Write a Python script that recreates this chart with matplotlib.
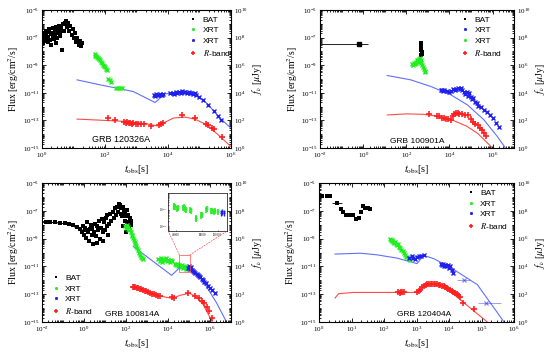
"""Four-panel GRB multi-band light curves (BAT / XRT / R-band)."""

import matplotlib.pyplot as plt
import numpy as np
from matplotlib.patches import Rectangle, ConnectionPatch
from matplotlib.ticker import FixedLocator, LogLocator, NullFormatter

plt.rcParams['font.family'] = ['Liberation Serif', 'DejaVu Serif']
plt.rcParams['mathtext.fontset'] = 'stix'

# ---------------- GRB 120326A ----------------
bat_a = np.array([
    (1.0, 1.2e-7), (1.05, 4e-8), (1.1, 8e-8), (1.15, 2e-7), (1.2, 6e-8), (1.3, 1.5e-7),
    (1.35, 3e-7), (1.4, 9e-8), (1.5, 5e-8), (1.55, 2.5e-7), (1.6, 1.1e-7), (1.7, 4e-7),
    (1.8, 7e-8), (1.9, 1.8e-7), (2.0, 3e-8), (2.1, 2.2e-7), (2.2, 1.3e-7), (2.3, 5e-7),
    (2.4, 8e-8), (2.5, 3e-7), (2.6, 1.6e-7), (2.7, 4e-8), (2.8, 6e-7), (2.9, 2e-7),
    (3.0, 1e-7), (3.2, 3.5e-7), (3.4, 7e-7), (3.6, 1.4e-7), (3.8, 2.5e-7), (4.0, 5e-7),
    (4.3, 1.3e-8), (4.6, 9e-7), (5.0, 3e-7), (5.4, 1.1e-6), (5.8, 1.5e-6), (6.3, 6e-7),
    (6.8, 1.2e-6), (7.4, 3e-7), (8.0, 7e-7), (8.7, 1.5e-7), (9.5, 4e-7), (10.3, 9e-8),
    (11.2, 2e-7), (12.2, 5e-8), (13.3, 1e-7), (14.5, 3e-8), (16, 6e-8), (17.5, 2.5e-8),
    (19, 4e-8)])
xrt_green_a = np.array([
    (48, 6e-9), (50, 5e-9), (53, 4.5e-9), (56, 4e-9), (60, 3.2e-9), (64, 2.6e-9),
    (68, 2.2e-9), (73, 1.8e-9), (78, 1.4e-9), (84, 1.1e-9), (90, 9e-10), (97, 7e-10),
    (105, 5.5e-10), (112, 4.3e-10), (126, 1e-10), (140, 8e-11), (160, 6.5e-11),
    (230, 2.2e-11), (260, 2.2e-11), (300, 2.1e-11), (340, 2.2e-11)])
xrt_blue_a = np.array([
    (3500, 7e-12), (3800, 6e-12), (4200, 8e-12), (4600, 7.5e-12), (5000, 6.5e-12),
    (5500, 8e-12), (6000, 7e-12), (6600, 7.5e-12), (7200, 8e-12), (12000, 9e-12),
    (14000, 1e-11), (16000, 8.5e-12), (18000, 1.1e-11), (20000, 9.5e-12), (23000, 1.2e-11),
    (26000, 1e-11), (29000, 1.3e-11), (32000, 1.1e-11), (36000, 1.25e-11), (40000, 1e-11),
    (45000, 1.15e-11), (50000, 9e-12), (56000, 1e-11), (63000, 8e-12), (70000, 9e-12),
    (80000, 7e-12), (100000, 5e-12), (130000, 3e-12), (190000, 1.4e-12), (280000, 4.5e-13),
    (400000, 2e-13), (500000, 1.1e-13)])
rband_a = np.array([
    (126, 1.5e-13), (210, 1.0e-13), (400, 8e-14), (450, 7e-14), (500, 7.5e-14),
    (560, 6.5e-14), (620, 7e-14), (700, 6e-14), (800, 6.5e-14), (950, 5.5e-14),
    (1100, 6e-14), (1400, 5.5e-14), (1700, 6e-14), (3000, 4e-14), (5200, 5e-14),
    (6000, 6e-14), (7000, 6.5e-14), (27000, 2.3e-13), (72000, 1.5e-13), (160000, 5.5e-14),
    (190000, 4.5e-14), (250000, 3e-14), (300000, 2.5e-14), (530000, 6.5e-15)])
model_x_a = np.array([
    (13, 8.7e-11), (69, 3.8e-11), (235, 2.2e-11), (790, 1.25e-11), (3900, 2e-12),
    (5600, 4.1e-12), (8000, 8.5e-12), (24000, 1.05e-11), (63000, 1.05e-11),
    (170000, 1.8e-12), (450000, 1.5e-13), (1e6, 2.8e-14)])
model_r_a = np.array([
    (13, 1.26e-13), (490, 8.5e-14), (2100, 5.8e-14), (4400, 4e-14), (7100, 6.5e-14),
    (15000, 1.5e-13), (35000, 1.75e-13), (72000, 1.25e-13), (170000, 4.9e-14),
    (450000, 7e-15), (1e6, 1.3e-15)])

# ---------------- GRB 100901A ----------------
bat_b_single = np.array([(0.65, 3.3e-8)])
bat_b_single_xerr = [[0.64], [0.95]]
bat_b = np.array([
    (480, 4e-8), (485, 3e-8), (490, 2.2e-8), (495, 1.6e-8), (500, 1.2e-8),
    (505, 9e-9), (510, 7e-9), (500, 5.6e-9)])
xrt_green_b = np.array([
    (190, 1.3e-9), (210, 1.1e-9), (230, 1.5e-9), (250, 1.2e-9), (270, 1.8e-9),
    (290, 1.4e-9), (310, 2.2e-9), (330, 1.7e-9), (350, 2.5e-9), (380, 3e-9), (400, 2e-9),
    (430, 3.5e-9), (460, 2.5e-9), (500, 1.5e-9), (550, 1e-9), (600, 7e-10), (650, 5e-10),
    (700, 4e-10), (760, 3.5e-10)])
xrt_blue_b = np.array([
    (4000, 1.5e-11), (4500, 1.7e-11), (5000, 1.4e-11), (5500, 1.6e-11), (8000, 1.3e-11),
    (10000, 1.1e-11), (12000, 1.4e-11), (15000, 1.8e-11), (18000, 1.6e-11), (21000, 2.0e-11),
    (25000, 2.2e-11), (30000, 1.9e-11), (35000, 2.1e-11), (40000, 1.6e-11), (48000, 1.1e-11),
    (55000, 8e-12), (62000, 1.2e-11), (70000, 6e-12), (80000, 9e-12), (95000, 5e-12),
    (110000, 3.5e-12), (130000, 4e-12), (150000, 2.2e-12), (180000, 1.8e-12),
    (220000, 1.2e-12), (300000, 9e-13), (400000, 6e-13), (550000, 4e-13), (750000, 2.5e-13),
    (1e6, 1.5e-13), (1.4e6, 7e-14), (1.9e6, 3.5e-14)])
rband_b = np.array([
    (1100, 2.9e-13), (2500, 2.2e-13), (3300, 2e-13), (4500, 1.6e-13), (5600, 1.5e-13),
    (7000, 1.2e-13), (9000, 1.3e-13), (11500, 1.1e-13), (14000, 2e-13), (17000, 3e-13),
    (20000, 3.5e-13), (24000, 3.2e-13), (28000, 3e-13), (40000, 2.8e-13), (55000, 2.5e-13),
    (75000, 2.7e-13), (100000, 1.2e-13), (130000, 8e-14), (160000, 6e-14), (200000, 4.5e-14),
    (250000, 3e-14), (320000, 2e-14), (400000, 1.2e-14), (500000, 8e-15)])
model_x_b = np.array([
    (13, 1.8e-10), (160, 8.7e-11), (1350, 2.9e-11), (11500, 7.2e-12), (68000, 1.35e-12),
    (400000, 1.1e-13), (1.65e6, 7e-15), (4e6, 1e-15)])
model_r_b = np.array([
    (13, 2.5e-13), (100, 3e-13), (600, 2.8e-13), (3000, 2e-13), (15000, 1e-13),
    (60000, 4e-14), (200000, 1.2e-14), (1e6, 1e-15)])

# ---------------- GRB 100814A ----------------
bat_c_early = np.array([
    (0.015, 1.7e-8), (0.025, 1.6e-8), (0.04, 1.5e-8), (0.07, 1.4e-8), (0.12, 1.3e-8),
    (0.2, 1.1e-8), (0.3, 9e-9), (0.45, 7e-9), (0.65, 5e-9)])
bat_c_early_xerr = [[0.005, 0.007, 0.012, 0.02, 0.035, 0.05, 0.07, 0.1, 0.12],
                    [0.008, 0.012, 0.02, 0.035, 0.05, 0.08, 0.1, 0.12, 0.15]]
bat_c = np.array([
    (0.8, 3e-9), (0.9, 8e-9), (1.0, 2e-9), (1.1, 6e-9), (1.2, 1.2e-9), (1.3, 4e-9),
    (1.45, 1.5e-8), (1.6, 3e-9), (1.75, 7e-10), (1.9, 5e-9), (2.1, 1e-8), (2.3, 2e-9),
    (2.5, 6e-9), (2.7, 4e-10), (3.0, 3e-9), (3.3, 1.2e-8), (3.6, 1.5e-9), (4.0, 8e-9),
    (4.4, 5e-10), (4.8, 4e-9), (5.3, 2e-8), (5.8, 1e-9), (6.4, 6e-9), (7.0, 2.5e-8),
    (7.7, 3e-9), (8.5, 7e-10), (9.3, 1.5e-8), (10.2, 4e-9), (11, 3e-8), (12, 8e-9),
    (13, 5e-8), (14.5, 2e-9), (16, 1.2e-8), (18, 6e-8), (20, 2e-8), (23, 8e-8), (26, 3e-8),
    (29, 1.5e-7), (33, 5e-8), (37, 2e-7), (41, 9e-8), (45, 3e-7), (50, 2.5e-7), (55, 6e-8),
    (60, 1.5e-7), (65, 4e-8), (70, 2e-7), (76, 8e-9), (82, 1e-7), (88, 2e-8), (95, 6e-8),
    (100, 3e-9), (105, 4e-8), (110, 1.2e-7), (115, 1.5e-8), (125, 5e-8), (135, 8e-9),
    (150, 3e-8), (165, 1e-8), (180, 2e-8)])
xrt_green_c = np.array([
    (90, 8e-9), (100, 6e-9), (110, 9e-9), (120, 5e-9), (130, 7e-9), (140, 4e-9), (155, 5e-9),
    (170, 3e-9), (185, 2e-9), (200, 1.5e-9), (220, 1.2e-9), (240, 8e-10), (260, 6e-10),
    (280, 4.5e-10), (310, 3e-10), (340, 2.2e-10), (380, 1.5e-10), (420, 1e-10),
    (470, 7e-11), (520, 5e-11), (600, 4e-11), (680, 3.5e-11),
    (3500, 3.5e-11), (4000, 2.5e-11), (4500, 4e-11), (5000, 3e-11), (5500, 2.2e-11),
    (6000, 3.2e-11), (7000, 2.8e-11), (8000, 3.8e-11), (9000, 2.5e-11), (10500, 3e-11),
    (12000, 2.2e-11), (14000, 3e-11), (16000, 2.4e-11), (21000, 1.6e-11), (24000, 1.2e-11),
    (27000, 1.5e-11), (31000, 1e-11), (35000, 1.3e-11), (40000, 9e-12), (45000, 1.2e-11),
    (52000, 8e-12), (60000, 1e-11), (70000, 7e-12), (80000, 9e-12), (95000, 7e-12)])
xrt_blue_c = np.array([
    (90000, 8e-12), (100000, 1e-11), (110000, 7e-12), (125000, 9e-12), (140000, 6e-12),
    (160000, 5e-12), (180000, 4e-12), (200000, 3.5e-12), (230000, 3e-12), (260000, 2.5e-12),
    (300000, 2e-12), (350000, 1.8e-12), (400000, 1.3e-12), (480000, 1e-12), (550000, 8e-13),
    (650000, 6e-13), (800000, 4e-13), (1e6, 3e-13), (1.3e6, 2e-13), (1.7e6, 1.3e-13)])
rband_c = np.array([
    (220, 3.2e-13), (250, 3.4e-13), (280, 3.2e-13), (320, 3e-13), (380, 2.7e-13),
    (450, 2.5e-13), (550, 2.3e-13), (650, 2e-13), (800, 1.8e-13), (950, 1.6e-13),
    (1150, 1.4e-13), (1400, 1.25e-13), (1700, 1.1e-13), (2100, 1e-13), (2600, 9e-14),
    (3200, 8e-14), (4000, 7e-14), (15000, 6e-14), (20000, 5.5e-14), (95000, 1.2e-13),
    (200000, 8e-14), (300000, 5e-14), (400000, 3.5e-14), (500000, 2.5e-14),
    (700000, 1.3e-14), (900000, 6e-15), (1.2e6, 2e-15)])
model_x_c = np.array([
    (220, 2.8e-10), (15000, 2.3e-12), (37000, 8.5e-12), (135000, 5e-12),
    (480000, 8.5e-13), (2.1e6, 2.3e-14), (6.2e6, 1e-15)])
model_r_c = np.array([
    (220, 3e-13), (1000, 1.5e-13), (5000, 7e-14), (16000, 5e-14), (37000, 8.3e-14),
    (110000, 1.2e-13), (250000, 5.4e-14), (480000, 1.8e-14), (1.3e6, 1e-15)])
zoom_box_t = (35000, 112000)
zoom_box_f = (3.7e-12, 6.9e-11)
inset_green = np.array([
    (42000, 1.7e-11), (43000, 1.9e-11), (44000, 1.6e-11), (47000, 1.2e-11), (48000, 1.4e-11),
    (54000, 1.4e-11), (55000, 1.6e-11), (57000, 1.2e-11), (58000, 1.1e-11),
    (64000, 1.1e-11), (65500, 9e-12), (71000, 2.8e-12), (72000, 3.5e-12), (78000, 4.8e-12),
    (79000, 5.5e-12), (85000, 1.1e-11), (86000, 1.2e-11), (91500, 8.7e-12), (92500, 9.5e-12),
    (96000, 8e-12), (97000, 8.5e-12), (100500, 8e-12)])
inset_blue = np.array([(104000, 7e-12), (106000, 7.5e-12), (108500, 7e-12)])
inset_rel_err = 0.4

# ---------------- GRB 120404A ----------------
bat_d = np.array([
    (1.2, 1.1e-6), (1.7, 1.1e-6), (2.2, 1.1e-6), (4.7, 1.4e-7), (5.6, 9e-8), (6.8, 5.2e-8),
    (8.6, 5.2e-8), (11, 4.7e-8), (13.8, 2.7e-8), (16.3, 3.3e-8), (19.3, 9e-8),
    (22.4, 2.1e-7), (26, 1.6e-7), (31, 1.5e-7), (37, 1.4e-7)])
bat_d_single = np.array([(3.5, 3.6e-7)])
bat_d_single_xerr = [[1.0], [1.5]]
xrt_green_d = np.array([
    (150, 9e-10), (160, 8e-10), (170, 7e-10), (180, 8.5e-10), (190, 6e-10), (200, 5e-10),
    (215, 6e-10), (230, 4e-10), (250, 3.5e-10), (270, 4.2e-10), (290, 2.5e-10),
    (310, 2e-10), (340, 1.6e-10), (370, 1.2e-10), (400, 1e-10), (440, 7e-11), (480, 5e-11),
    (530, 4.5e-11), (580, 3.5e-11), (640, 3e-11)])
xrt_blue_d = np.array([
    (600, 4e-11), (700, 6e-11), (800, 4e-11), (900, 3.5e-11), (1000, 4.5e-11),
    (1200, 5.5e-11), (1400, 6e-11), (1700, 7e-11), (5500, 1.6e-11), (6000, 1.2e-11),
    (6500, 1.5e-11), (7000, 1.1e-11), (7500, 1.3e-11), (8000, 1e-11), (9000, 1.2e-11),
    (10000, 8e-12), (11000, 1e-11), (12000, 6e-12), (13000, 3.5e-12)])
xrt_blue_d_late = np.array([(28000, 1.1e-12), (135000, 2.3e-14)])
xrt_blue_d_late_xerr = [[10000, 55000], [17000, 265000]]
rband_d = np.array([
    (270, 1.4e-13), (300, 1.3e-13), (330, 1.4e-13), (360, 1.35e-13), (400, 1.4e-13),
    (1000, 1.4e-13), (1150, 1.6e-13), (1300, 2.1e-13), (1500, 3.2e-13), (1700, 4.2e-13),
    (1900, 4.8e-13), (2100, 5.3e-13), (2400, 5.5e-13), (2700, 5.6e-13), (3000, 5.5e-13),
    (3400, 5.6e-13), (3800, 5.3e-13), (4300, 5.2e-13), (4800, 5e-13), (5400, 4.6e-13),
    (6000, 4.2e-13), (6800, 3.8e-13), (7600, 3.3e-13), (8500, 2.9e-13), (9500, 2.5e-13),
    (10500, 2.1e-13), (12000, 1.8e-13), (13500, 1.5e-13), (15000, 1.2e-13),
    (17000, 1e-13), (19000, 8.5e-14), (22000, 6.5e-14), (27000, 2.2e-14), (60000, 9e-15)])
model_x_d = np.array([
    (3.1, 7.8e-11), (18.5, 9e-11), (60, 6.9e-11), (250, 4e-11), (1030, 1.6e-11),
    (1650, 6.3e-11), (3400, 3.6e-11), (11000, 8.5e-12), (74000, 4.9e-13), (490000, 1e-15)])
model_r_d = np.array([
    (3.1, 5.4e-14), (4, 1.1e-13), (11.5, 1.35e-13), (1030, 1.35e-13), (1650, 3.8e-13),
    (3400, 5.4e-13), (6900, 3.8e-13), (22000, 4e-14), (150000, 1e-15)])

flux_ticks = [1e-15, 1e-13, 1e-11, 1e-9, 1e-7, 1e-5]
fnu_ticks = [1e0, 1e2, 1e4, 1e6, 1e8, 1e10]

C_BAT = 'black'
C_GREEN = '#22ee22'
C_BLUE = '#2020ee'
C_RED = '#ff2020'
C_XLINE = '#6070ff'
C_RLINE = '#ff4a4a'
SANS = 'Liberation Sans'


def setup_axes(ax, xlim, xticks):
    ax.set_xscale('log')
    ax.set_yscale('log')
    ax.set_xlim(xlim)
    ax.set_ylim(1e-15, 1e-5)
    ax.xaxis.set_major_locator(FixedLocator(xticks))
    ax.yaxis.set_major_locator(FixedLocator(flux_ticks))
    for axis in (ax.xaxis, ax.yaxis):
        axis.set_minor_locator(LogLocator(10, subs=np.arange(1, 10), numticks=200))
        axis.set_minor_formatter(NullFormatter())
    ax.tick_params(which='both', direction='in', top=True, labelsize=5, width=0.6)
    ax.tick_params(which='major', length=3, pad=2)
    ax.tick_params(which='minor', length=1.5)
    ax.set_xlabel(r'$t_{\rm obs}$[s]', fontsize=7.5, labelpad=2)
    ax.set_ylabel(r'Flux [erg/cm$^2$/s]', fontsize=7, labelpad=1)
    for sp in ax.spines.values():
        sp.set_linewidth(0.7)

    ax2 = ax.twinx()
    ax2.set_yscale('log')
    ax2.set_ylim(1e0, 1e10)
    ax2.yaxis.set_major_locator(FixedLocator(fnu_ticks))
    ax2.yaxis.set_minor_locator(LogLocator(10, subs=np.arange(1, 10), numticks=200))
    ax2.yaxis.set_minor_formatter(NullFormatter())
    ax2.tick_params(which='both', direction='in', labelsize=5, width=0.6)
    ax2.tick_params(which='major', length=3, pad=2)
    ax2.tick_params(which='minor', length=1.5)
    ax2.set_ylabel(r'$f_\nu$ [$\mu$Jy]', fontsize=7, labelpad=2)
    return ax2


def draw_series(ax, bat, green, blue, red, xline, rline):
    ax.plot(xline[:, 0], xline[:, 1], color=C_XLINE, lw=0.8, zorder=1)
    ax.plot(rline[:, 0], rline[:, 1], color=C_RLINE, lw=0.8, zorder=1)
    h_bat, = ax.plot(bat[:, 0], bat[:, 1], 's', color=C_BAT, ms=2.4, mew=0, zorder=3)
    h_g, = ax.plot(green[:, 0], green[:, 1], 'x', color=C_GREEN, ms=2.6, mew=1.0, zorder=3)
    h_b, = ax.plot(blue[:, 0], blue[:, 1], 'x', color=C_BLUE, ms=2.6, mew=1.0, zorder=3)
    h_r, = ax.plot(red[:, 0], red[:, 1], '+', color=C_RED, ms=4, mew=1.2, zorder=3)
    return h_bat, h_g, h_b, h_r


def add_legend(ax, handles, labels, loc, anchor):
    ax.legend(handles, labels, loc=loc, bbox_to_anchor=anchor, frameon=False,
              prop={'family': SANS, 'size': 6}, handlelength=1.0, handletextpad=0.6,
              labelspacing=0.35, borderpad=0.2, markerscale=0.6)


fig = plt.figure(figsize=(5.54, 3.56), dpi=100)

# panel 1
ax1 = fig.add_axes([0.0758, 0.584, 0.341, 0.388])
setup_axes(ax1, (1e0, 1e6), [1e0, 1e2, 1e4, 1e6])
h = draw_series(ax1, bat_a, xrt_green_a, xrt_blue_a, rband_a, model_x_a, model_r_a)
add_legend(ax1, h, ['BAT', 'XRT', 'XRT', '$R$-band'], 'upper right', (1.03, 1.0))
ax1.text(0.42, 0.06, 'GRB 120326A', transform=ax1.transAxes, ha='center', va='center',
         family=SANS, fontsize=6.5)

# panel 2
ax2 = fig.add_axes([0.578, 0.584, 0.350, 0.388])
setup_axes(ax2, (1e-2, 1e7), [1e-2, 1e0, 1e2, 1e4, 1e6])
h = draw_series(ax2, bat_b, xrt_green_b, xrt_blue_b, rband_b, model_x_b, model_r_b)
ax2.errorbar(bat_b_single[:, 0], bat_b_single[:, 1], xerr=bat_b_single_xerr, fmt='s',
             color=C_BAT, ms=2.4, lw=0.6, capsize=0, zorder=3)
add_legend(ax2, [h[0], h[2], h[1], h[3]], ['BAT', 'XRT', 'XRT', '$R$-band'],
           'upper right', (0.97, 1.0))
ax2.text(0.5, 0.045, 'GRB 100901A', transform=ax2.transAxes, ha='center', va='center',
         family=SANS, fontsize=6)

# panel 3
ax3 = fig.add_axes([0.0758, 0.0955, 0.341, 0.390])
setup_axes(ax3, (1e-2, 1e7), [1e-2, 1e0, 1e2, 1e4, 1e6])
h = draw_series(ax3, bat_c, xrt_green_c, xrt_blue_c, rband_c, model_x_c, model_r_c)
ax3.errorbar(bat_c_early[:, 0], bat_c_early[:, 1], xerr=bat_c_early_xerr, fmt='s',
             color=C_BAT, ms=2.4, mew=0, lw=0.6, capsize=0, zorder=3)
add_legend(ax3, h, ['BAT', 'XRT', 'XRT', '$R$-band'], 'lower left', (0.02, 0.0))
ax3.text(0.475, 0.053, 'GRB 100814A', transform=ax3.transAxes, ha='center', va='center',
         family=SANS, fontsize=6)
ax3.add_patch(Rectangle((zoom_box_t[0], zoom_box_f[0]), zoom_box_t[1] - zoom_box_t[0],
                        zoom_box_f[1] - zoom_box_f[0], fill=False, ec=C_RLINE, lw=0.5,
                        zorder=4))

axin = fig.add_axes([0.304, 0.350, 0.105, 0.108])
axin.set_yscale('log')
axin.set_xlim(zoom_box_t)
axin.set_ylim(4.7e-13, 1.05e-10)
axin.errorbar(inset_green[:, 0], inset_green[:, 1], yerr=inset_green[:, 1] * inset_rel_err,
              fmt='x', color=C_GREEN, ms=1.5, mew=0.5, lw=1.2, capsize=0)
axin.errorbar(inset_blue[:, 0], inset_blue[:, 1], yerr=inset_blue[:, 1] * inset_rel_err,
              fmt='x', color=C_BLUE, ms=1.5, mew=0.5, lw=1.0, capsize=0)
axin.set_xticks([45000, 80000, 100000])
axin.set_yticks([1e-12, 1e-11])
axin.yaxis.set_minor_formatter(NullFormatter())
axin.tick_params(which='both', direction='in', labelsize=2.2, length=1, width=0.4, pad=1)
for sp in axin.spines.values():
    sp.set_linewidth(0.5)
for xa, xb in ((zoom_box_t[0], 0), (zoom_box_t[1], 1)):
    con = ConnectionPatch(xyA=(xa, zoom_box_f[1]), coordsA=ax3.transData,
                          xyB=(xb, 0), coordsB=axin.transAxes,
                          color=C_RLINE, lw=0.5, ls=(0, (2, 2)))
    fig.add_artist(con)

# panel 4
ax4 = fig.add_axes([0.576, 0.0955, 0.352, 0.390])
setup_axes(ax4, (1e0, 1e6), [1e0, 1e1, 1e2, 1e3, 1e4, 1e5, 1e6])
h = draw_series(ax4, bat_d, xrt_green_d, xrt_blue_d, rband_d, model_x_d, model_r_d)
ax4.errorbar(bat_d_single[:, 0], bat_d_single[:, 1], xerr=bat_d_single_xerr, fmt='s',
             color=C_BAT, ms=2.4, mew=0, lw=0.6, capsize=0, zorder=3)
ax4.errorbar(xrt_blue_d_late[:, 0], xrt_blue_d_late[:, 1], xerr=xrt_blue_d_late_xerr,
             fmt='x', color=C_BLUE, ms=2.5, mew=0.8, lw=0.5, capsize=0, alpha=0.6, zorder=3)
add_legend(ax4, h, ['BAT', 'XRT', 'XRT', '$R$-band'], 'upper right', (1.0, 1.0))
ax4.text(0.537, 0.053, 'GRB 120404A', transform=ax4.transAxes, ha='center', va='center',
         family=SANS, fontsize=6)

fig.savefig('out.png', dpi=100)
